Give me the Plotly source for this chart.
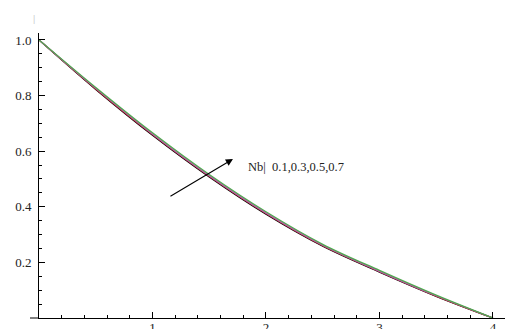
import plotly.graph_objects as go

eta = [0, 0.5, 1.0, 1.5, 2.0, 2.5, 3.0, 3.5, 4.0]
phi_nb01 = [1, 0.822, 0.657, 0.507, 0.373, 0.258, 0.165, 0.078, 0]
phi_nb03 = [1, 0.824, 0.660, 0.510, 0.376, 0.260, 0.167, 0.079, 0]
phi_nb05 = [1, 0.826, 0.662, 0.512, 0.378, 0.262, 0.168, 0.080, 0]
phi_nb07 = [1, 0.829, 0.666, 0.516, 0.382, 0.265, 0.171, 0.082, 0]
series = [phi_nb01, phi_nb03, phi_nb05, phi_nb07]
colors = ["#000000", "#c03030", "#b060b0", "#50a850"]

x_ticks = [1, 2, 3, 4]
y_ticks = [0.2, 0.4, 0.6, 0.8, 1.0]
y_tick_text = ["0.2", "0.4", "0.6", "0.8", "1.0"]

fig = go.Figure()
for s, c in zip(series, colors):
    fig.add_trace(go.Scatter(x=eta, y=s, mode="lines",
                             line=dict(color=c, width=1.3, shape="spline"),
                             showlegend=False, hoverinfo="skip"))

font = dict(family="Liberation Serif", size=13, color="#222")
fig.update_layout(
    width=508, height=329,
    margin=dict(l=39, r=3, t=33, b=11),
    paper_bgcolor="white", plot_bgcolor="white",
    font=font,
    xaxis=dict(range=[0, 4.106], tickvals=x_ticks, ticktext=[str(v) for v in x_ticks],
               ticks="inside", ticklen=6, tickwidth=1, tickcolor="black",
               showline=True, linecolor="black", linewidth=1,
               showgrid=False, zeroline=False, ticklabelstandoff=-3,
               automargin=False,
               minor=dict(dtick=0.2, tick0=0, ticks="inside", ticklen=3,
                          tickcolor="black", showgrid=False),
               tickfont=font),
    yaxis=dict(range=[0, 1.025], tickvals=y_ticks, ticktext=y_tick_text,
               ticks="inside", ticklen=6, tickwidth=1, tickcolor="black",
               showline=True, linecolor="black", linewidth=1,
               showgrid=False, zeroline=False, ticklabelstandoff=4,
               automargin=False,
               minor=dict(dtick=0.05, tick0=0, ticks="inside", ticklen=3,
                          tickcolor="black", showgrid=False),
               tickfont=font),
)

# small overhang of the x axis line to the left of the y axis
fig.add_shape(type="line", xref="paper", yref="paper",
              x0=-9/466, x1=0, y0=0, y1=0, line=dict(color="black", width=1))

fig.add_annotation(x=1.709, y=0.572, ax=1.145, ay=0.435, axref="x", ayref="y",
                   xref="x", yref="y", text="", showarrow=True,
                   arrowhead=2, arrowsize=1.3, arrowwidth=1.1, arrowcolor="black")
fig.add_annotation(x=1.824, y=0.543, xref="x", yref="y", text="Nb|  0.1,0.3,0.5,0.7",
                   showarrow=False, xanchor="left", yanchor="middle",
                   font=dict(family="Liberation Serif", size=12.5, color="#222"))
fig.add_annotation(x=-0.0097, y=1.054, xref="paper", yref="paper", text="|",
                   showarrow=False, xanchor="center", yanchor="middle",
                   font=dict(family="Liberation Serif", size=11, color="#bbbbbb"))

fig.write_html("out.html")
